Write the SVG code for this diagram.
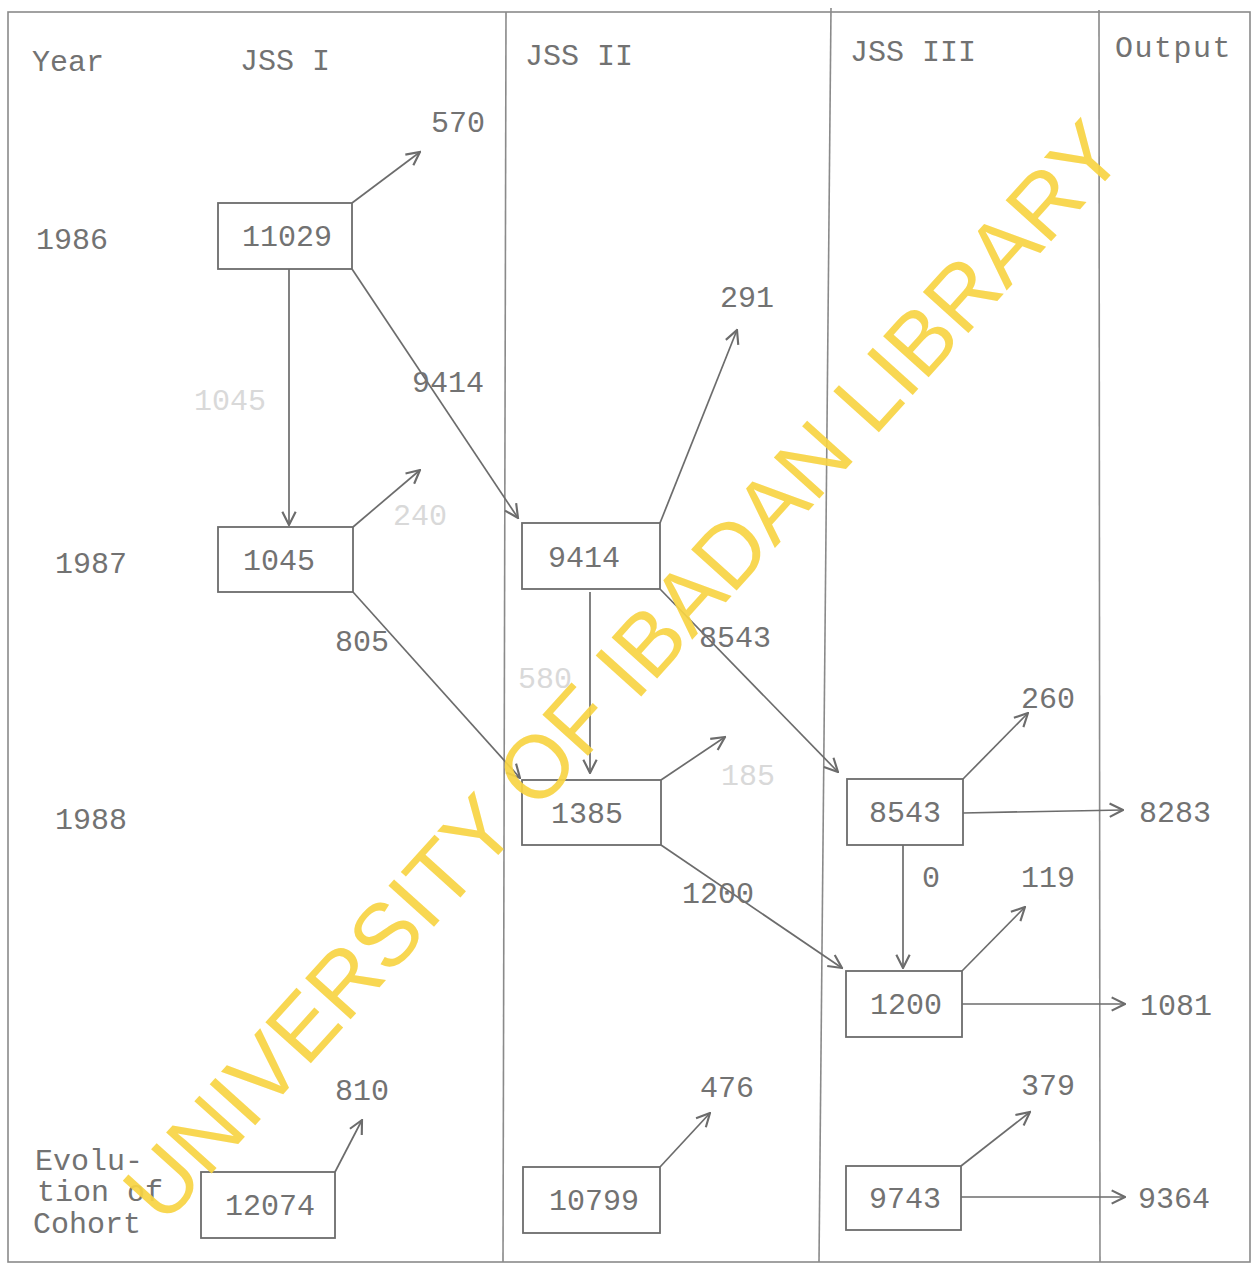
<svg xmlns="http://www.w3.org/2000/svg" width="1258" height="1266" viewBox="0 0 1258 1266">
<style>
.t{font-family:"Liberation Mono","DejaVu Sans Mono",monospace;font-size:30px;fill:#727272}
.m{text-anchor:middle}
.f{fill:#d9d9d9}
.b{fill:#ffffff;stroke:#6c6c6c;stroke-width:1.8}
.c line{stroke:#6c6c6c;stroke-width:1.7;fill:none}
.a{marker-end:url(#ah)}
.g{stroke:#8a8a8a;stroke-width:1.6;fill:none}
.wm{font-family:"Liberation Sans",Arial,sans-serif;font-size:89px;fill:#f7d443;fill-opacity:0.92}
</style>
<defs>
<marker id="ah" viewBox="0 0 12 12" refX="11" refY="6" markerWidth="16" markerHeight="16" markerUnits="userSpaceOnUse" orient="auto">
<path d="M1,1 L11,6 L1,11" fill="none" stroke="#6c6c6c" stroke-width="1.6"/>
</marker>
</defs>
<rect width="1258" height="1266" fill="#ffffff"/>
<g id="frame">
<rect x="8" y="12" width="1242" height="1250" class="g"/>
<line x1="506" y1="12" x2="503" y2="1262" class="g"/>
<line x1="831" y1="8" x2="819" y2="1262" class="g"/>
<line x1="1099" y1="10" x2="1100" y2="1262" class="g"/>
</g>
<g id="headers">
<text class="t" x="32" y="71">Year</text>
<text class="t" x="240" y="70">JSS I</text>
<text class="t" x="525" y="65">JSS II</text>
<text class="t" x="850" y="61">JSS III</text>
<text class="t" x="1115" y="57" letter-spacing="1.5">Output</text>
<text class="t" x="36" y="249">1986</text>
<text class="t" x="55" y="573">1987</text>
<text class="t" x="55" y="829">1988</text>
<text class="t" x="35" y="1170">Evolu-</text>
<text class="t" x="37" y="1201">tion of</text>
<text class="t" x="33" y="1233">Cohort</text>
</g>
<g id="connectors" class="c">
<line class="a" x1="352" y1="203" x2="420" y2="152"/>
<line class="a" x1="352" y1="269" x2="518" y2="518"/>
<line class="a" x1="289" y1="269" x2="289" y2="525"/>
<line class="a" x1="353" y1="527" x2="420" y2="470"/>
<line class="a" x1="353" y1="592" x2="520" y2="778"/>
<line class="a" x1="660" y1="523" x2="737" y2="330"/>
<line class="a" x1="590" y1="592" x2="590" y2="773"/>
<line class="a" x1="660" y1="589" x2="838" y2="772"/>
<line class="a" x1="661" y1="780" x2="725" y2="737"/>
<line class="a" x1="661" y1="845" x2="842" y2="968"/>
<line class="a" x1="963" y1="779" x2="1028" y2="713"/>
<line class="a" x1="963" y1="813" x2="1123" y2="810"/>
<line class="a" x1="903" y1="845" x2="903" y2="968"/>
<line class="a" x1="962" y1="971" x2="1025" y2="907"/>
<line class="a" x1="962" y1="1004" x2="1125" y2="1004"/>
<line class="a" x1="335" y1="1172" x2="362" y2="1120"/>
<line class="a" x1="660" y1="1167" x2="710" y2="1113"/>
<line class="a" x1="961" y1="1166" x2="1030" y2="1112"/>
<line class="a" x1="961" y1="1197" x2="1125" y2="1197"/>
</g>
<g id="edge-labels">
<text class="t m" x="458" y="132">570</text>
<text class="t m" x="448" y="392">9414</text>
<text class="t m f" x="230" y="410">1045</text>
<text class="t m f" x="420" y="525">240</text>
<text class="t m" x="362" y="651">805</text>
<text class="t m" x="747" y="307">291</text>
<text class="t m f" x="545" y="688">580</text>
<text class="t m" x="735" y="647">8543</text>
<text class="t m f" x="748" y="785">185</text>
<text class="t m" x="718" y="903">1200</text>
<text class="t m" x="1048" y="708">260</text>
<text class="t m" x="1175" y="822">8283</text>
<text class="t m" x="931" y="887">0</text>
<text class="t m" x="1048" y="887">119</text>
<text class="t m" x="1176" y="1015">1081</text>
<text class="t m" x="362" y="1100">810</text>
<text class="t m" x="727" y="1097">476</text>
<text class="t m" x="1048" y="1095">379</text>
<text class="t m" x="1174" y="1208">9364</text>
</g>
<g id="n11029"><rect class="b" x="218" y="203" width="134" height="66"/><text class="t m" x="287" y="246">11029</text></g>
<g id="n1045"><rect class="b" x="218" y="527" width="135" height="65"/><text class="t m" x="279" y="570">1045</text></g>
<g id="n9414"><rect class="b" x="522" y="523" width="138" height="66"/><text class="t m" x="584" y="567">9414</text></g>
<g id="n1385"><rect class="b" x="522" y="780" width="139" height="65"/><text class="t m" x="587" y="823">1385</text></g>
<g id="n8543"><rect class="b" x="847" y="779" width="116" height="66"/><text class="t m" x="905" y="822">8543</text></g>
<g id="n1200"><rect class="b" x="846" y="971" width="116" height="66"/><text class="t m" x="906" y="1014">1200</text></g>
<g id="n12074"><rect class="b" x="201" y="1172" width="134" height="66"/><text class="t m" x="270" y="1215">12074</text></g>
<g id="n10799"><rect class="b" x="523" y="1167" width="137" height="66"/><text class="t m" x="594" y="1210">10799</text></g>
<g id="n9743"><rect class="b" x="846" y="1166" width="115" height="64"/><text class="t m" x="905" y="1208">9743</text></g>
<text class="wm m" x="622" y="702" transform="rotate(-48 622 670)">UNIVERSITY OF IBADAN LIBRARY</text>
</svg>
